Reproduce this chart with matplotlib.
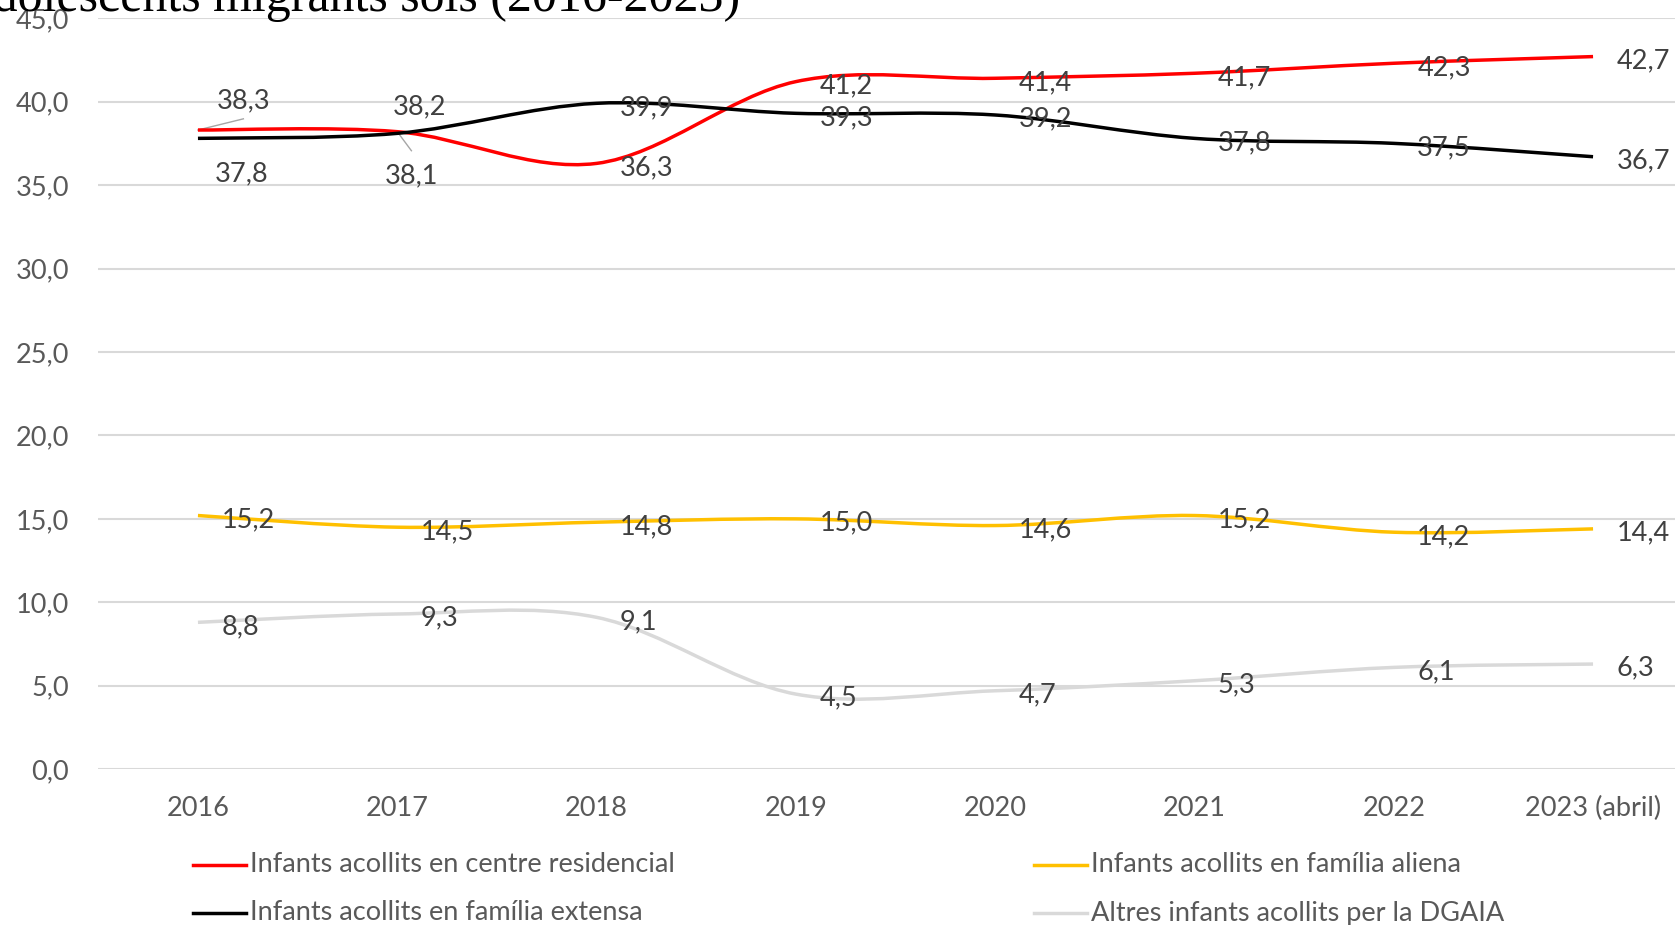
import numpy as np
import matplotlib.pyplot as plt
from matplotlib.path import Path
from matplotlib.patches import PathPatch
from matplotlib.lines import Line2D

years = ['2016', '2017', '2018', '2019', '2020', '2021', '2022', '2023 (abril)']
residencial = [38.3, 38.2, 36.3, 41.2, 41.4, 41.7, 42.3, 42.7]
extensa = [37.8, 38.1, 39.9, 39.3, 39.2, 37.8, 37.5, 36.7]
aliena = [15.2, 14.5, 14.8, 15.0, 14.6, 15.2, 14.2, 14.4]
altres = [8.8, 9.3, 9.1, 4.5, 4.7, 5.3, 6.1, 6.3]

noms = ['Infants acollits en centre residencial',
        'Infants acollits en família extensa',
        'Infants acollits en família aliena',
        'Altres infants acollits per la DGAIA']
colors = ['#FF0000', '#000000', '#FFC000', '#D9D9D9']
series = [residencial, extensa, aliena, altres]

# label tweaks (dx, dy) for the few labels Excel had moved
moved = {(0, 0): (0.096, 1.75), (0, 1): (-0.02, 1.47),
         (1, 0): (0.086, -2.1), (1, 1): (-0.062, -2.53)}

W, H = 1675, 925
fig = plt.figure(figsize=(W / 100, H / 100), dpi=100)
ax = fig.add_axes([98.3 / W, (H - 769.2) / H, 1594.4 / W, 751 / H])
ax.set_xlim(-0.5, 7.5)
ax.set_ylim(0, 45)

FONT = 'Lato'
FS = 19.5
txt = '#404040'


def smooth_path(xs, ys):
    # Catmull-Rom through the points, as Excel's smoothed line
    p = np.column_stack([xs, ys]).astype(float)
    ext = np.vstack([p[0], p, p[-1]])
    verts = [p[0]]
    codes = [Path.MOVETO]
    for i in range(len(p) - 1):
        p0, p1, p2, p3 = ext[i], ext[i + 1], ext[i + 2], ext[i + 3]
        verts += [p1 + (p2 - p0) / 6, p2 - (p3 - p1) / 6, p2]
        codes += [Path.CURVE4] * 3
    return Path(verts, codes)


x = np.arange(len(years))
for k, (vals, c) in enumerate(zip(series, colors)):
    ax.add_patch(PathPatch(smooth_path(x, vals), fill=False, edgecolor=c,
                           lw=2.5, capstyle='butt', zorder=3))
    for i, v in enumerate(vals):
        dx, dy = moved.get((k, i), (0.118, -0.25))
        ax.text(i + dx, v + dy, f'{v:.1f}'.replace('.', ','), ha='left',
                va='center', fontsize=FS, color=txt, family=FONT, zorder=4)

# leader lines for moved labels
ax.plot([0, 0.228], [residencial[0], 38.97], color='#A6A6A6', lw=1, zorder=2)
ax.plot([1, 1.071], [residencial[1], 37.06], color='#A6A6A6', lw=1, zorder=2)

ax.set_yticks(np.arange(0, 46, 5))
ax.set_yticklabels([f'{t:.1f}'.replace('.', ',') for t in np.arange(0, 46, 5)])
ax.set_xticks(x)
ax.set_xticklabels(years)
ax.tick_params(length=0, labelsize=FS, labelcolor='#595959')
ax.tick_params(axis='y', pad=21)
ax.tick_params(axis='x', pad=19)
for lab in ax.get_xticklabels() + ax.get_yticklabels():
    lab.set_family(FONT)
ax.grid(axis='y', color='#D9D9D9', lw=1.5)
ax.set_axisbelow(True)
for s in ax.spines.values():
    s.set_visible(False)

# legend, laid out as in Excel (two columns)
leg_pos = [(193, 865), (193, 913), (1034, 865), (1034, 913)]
for (lx, ly), nom, c in zip(leg_pos, noms, colors):
    fig.add_artist(Line2D([lx / W, (lx + 53) / W], [1 - ly / H] * 2,
                          color=c, lw=2.5))
    fig.text((lx + 57) / W, 1 - ly / H, nom, ha='left', va='center',
             fontsize=FS, color='#595959', family=FONT)

fig.text(740 / W, 1 - 11 / H, "Infants i adolescents migrants sols (2016-2023)",
         ha='right', va='baseline', fontsize=36, family='Liberation Serif',
         color='black')

fig.savefig('out.png', dpi=100)
